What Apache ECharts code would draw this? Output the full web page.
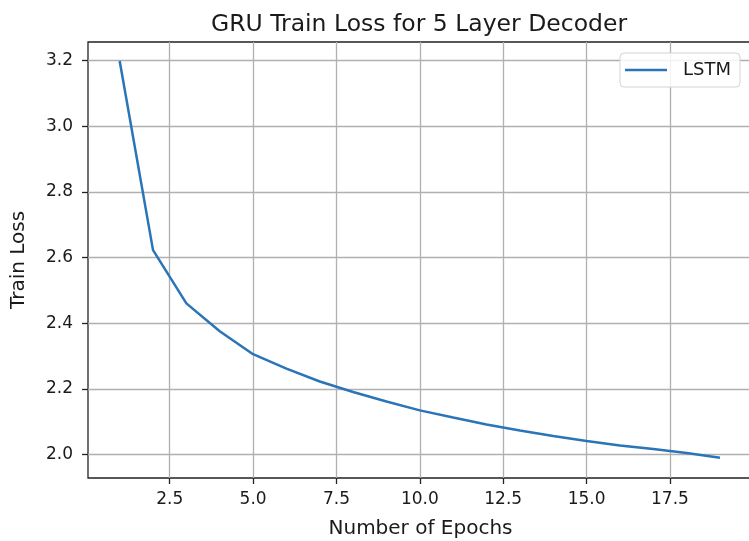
<!DOCTYPE html>
<html>
<head>
<meta charset="utf-8">
<title>GRU Train Loss for 5 Layer Decoder</title>
<script src="https://cdn.jsdelivr.net/npm/echarts@6/dist/echarts.min.js"></script>
<style>
  html, body { margin: 0; padding: 0; background: #ffffff; }
  #chart { width: 749px; height: 541px; }
</style>
</head>
<body>
<div id="chart"></div>
<script>
// Training loss per epoch
const epochs = [1, 2, 3, 4, 5, 6, 7, 8, 9, 10, 11, 12, 13, 14, 15, 16, 17, 18, 19];
const trainLoss = [3.199, 2.623, 2.461, 2.376, 2.306, 2.262, 2.223, 2.191, 2.162, 2.135,
                   2.113, 2.092, 2.074, 2.057, 2.042, 2.028, 2.017, 2.005, 1.991];

// Tick positions on each axis
const xTicks = [2.5, 5.0, 7.5, 10.0, 12.5, 15.0, 17.5];
const yTicks = [2.0, 2.2, 2.4, 2.6, 2.8, 3.0, 3.2];

const FONT = 'DejaVu Sans';
const INK = '#1a1a1a';
const GRID_COLOR = '#b0b0b0';
const LINE_COLOR = '#2a74b8';

const chart = echarts.init(document.getElementById('chart'), null, { renderer: 'canvas' });

const points = epochs.map((e, i) => [e, trainLoss[i]]);

const gridLines = xTicks.map(v => ({ xAxis: v })).concat(yTicks.map(v => ({ yAxis: v })));

chart.setOption({
  animation: false,
  backgroundColor: '#ffffff',
  textStyle: { fontFamily: FONT },
  title: {
    text: 'GRU Train Loss for 5 Layer Decoder',
    left: 414,
    top: 8,
    textAlign: 'center',
    textStyle: { fontFamily: FONT, fontSize: 23.5, fontWeight: 'normal', color: INK }
  },
  grid: {
    // the plot frame runs past the right edge of the page
    left: 88,
    top: 42,
    width: 665,
    height: 436,
    outerBoundsMode: 'none',
    containLabel: false,
    show: true,
    borderColor: '#222222',
    borderWidth: 1.3,
    backgroundColor: 'transparent'
  },
  legend: {
    data: ['LSTM'],
    left: 620,
    top: 53,
    icon: 'rect',
    itemWidth: 42,
    itemHeight: 2.5,
    padding: [8, 9, 8, 5],
    backgroundColor: 'rgba(255,255,255,0.85)',
    borderColor: '#d4d4d4',
    borderWidth: 1,
    borderRadius: 4,
    selectedMode: false,
    textStyle: { fontFamily: FONT, fontSize: 18, color: INK, padding: [0, 0, 0, 11] }
  },
  xAxis: {
    type: 'value',
    min: 0.05,
    max: 19.99,
    name: 'Number of Epochs',
    nameLocation: 'middle',
    nameGap: 41,
    nameTextStyle: { fontFamily: FONT, fontSize: 20, color: INK },
    axisLine: { show: false },
    axisTick: {
      show: true, inside: false, length: 6, customValues: xTicks,
      lineStyle: { color: '#222222', width: 1.3 }
    },
    axisLabel: {
      customValues: xTicks,
      margin: 13,
      fontFamily: FONT, fontSize: 17, color: INK,
      formatter: v => Number(v).toFixed(1)
    },
    splitLine: { show: false }
  },
  yAxis: {
    type: 'value',
    min: 1.929,
    max: 3.257,
    name: 'Train Loss',
    nameLocation: 'middle',
    nameRotate: 90,
    nameGap: 59,
    nameTextStyle: { fontFamily: FONT, fontSize: 20, color: INK },
    axisLine: { show: false },
    axisTick: {
      show: true, inside: false, length: 6, customValues: yTicks,
      lineStyle: { color: '#222222', width: 1.3 }
    },
    axisLabel: {
      customValues: yTicks,
      margin: 15,
      fontFamily: FONT, fontSize: 17, color: INK,
      formatter: v => Number(v).toFixed(1)
    },
    splitLine: { show: false }
  },
  series: [
    {
      // grid lines at the tick values, kept underneath the curve
      type: 'line',
      name: 'gridlines',
      data: [],
      silent: true,
      z: 1,
      markLine: {
        z: 1,
        silent: true,
        symbol: ['none', 'none'],
        label: { show: false },
        lineStyle: { color: GRID_COLOR, width: 1.3, type: 'solid' },
        emphasis: { disabled: true },
        data: gridLines
      }
    },
    {
      type: 'line',
      name: 'LSTM',
      data: points,
      z: 3,
      showSymbol: false,
      smooth: false,
      lineStyle: { color: LINE_COLOR, width: 2.5 },
      itemStyle: { color: LINE_COLOR }
    }
  ]
});
</script>
</body>
</html>
